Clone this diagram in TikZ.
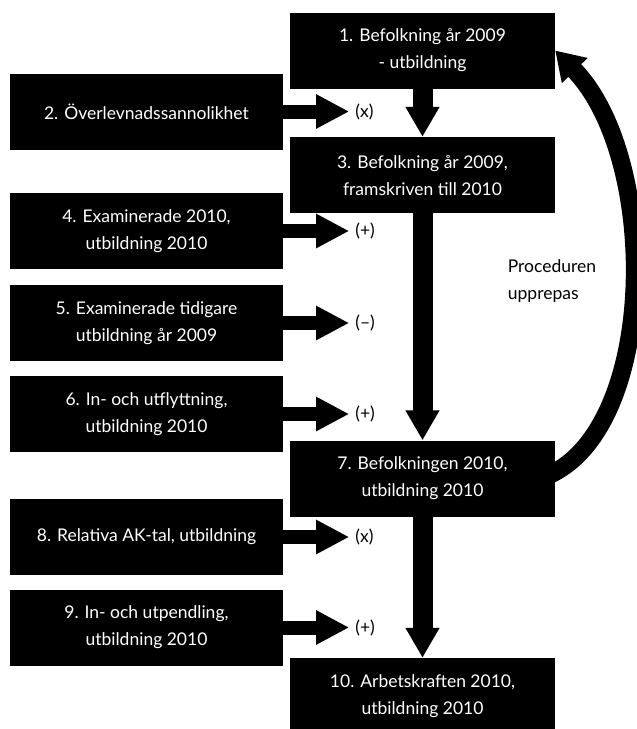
\documentclass[tikz,border=0pt]{standalone}
\usepackage{fontspec}
\setmainfont{Lato}
\usetikzlibrary{arrows.meta,positioning}

\begin{document}
\begin{tikzpicture}[x=1pt,y=-1pt,
  box/.style={fill=black, text=white, align=center, inner sep=0pt,
    minimum height=76pt, font=\fontsize{17.5}{27}\selectfont},
  leftbox/.style={box, minimum width=273pt},
  rightbox/.style={box, minimum width=265pt},
  sign/.style={inner sep=0pt, font=\fontsize{17.5}{27}\selectfont},
  feed/.style={line width=14pt, shorten >=6pt, -{Triangle[width=32pt,length=33pt]}},
  flow/.style={line width=20pt, -{Triangle[width=32pt,length=30pt]}}]
  \useasboundingbox (0,0) rectangle (637,729);
  \node[rightbox] (pop09) at (422.5,50.5) {1. Befolkning år 2009\\- utbildning};
  \node[leftbox] (surv) at (146.5,111.5) {2. Överlevnadssannolikhet};
  \node[rightbox] (proj) at (422.5,175) {3. Befolkning år 2009,\\framskriven till 2010};
  \node[leftbox] (grad10) at (146.5,231) {4. Examinerade 2010,\\utbildning 2010};
  \node[leftbox] (gradprev) at (146.5,323) {5. Examinerade tidigare\\utbildning år 2009};
  \node[leftbox] (migr) at (146.5,414) {6. In- och utflyttning,\\utbildning 2010};
  \node[rightbox] (pop10) at (422.5,478.5) {7. Befolkningen 2010,\\utbildning 2010};
  \node[leftbox] (akrel) at (146.5,537) {8. Relativa AK-tal, utbildning};
  \node[leftbox] (commute) at (146.5,627.5) {9. In- och utpendling,\\utbildning 2010};
  \node[rightbox] (labour) at (422.5,696) {10. Arbetskraften 2010,\\utbildning 2010};

  \node[sign, right=72pt of surv.east] (s-surv) {(x)};
  \node[sign, right=72pt of grad10.east] (s-grad10) {(+)};
  \node[sign, right=72pt of gradprev.east] (s-gradprev) {(–)};
  \node[sign, right=72pt of migr.east] (s-migr) {(+)};
  \node[sign, right=72pt of akrel.east] (s-akrel) {(x)};
  \node[sign, right=72pt of commute.east] (s-commute) {(+)};
  \node[sign, align=left] (repeat) at (552,281) {Proceduren\\upprepas};

  \draw[feed] (surv) -- (s-surv);
  \draw[feed] (grad10) -- (s-grad10);
  \draw[feed] (gradprev) -- (s-gradprev);
  \draw[feed] (migr) -- (s-migr);
  \draw[feed] (akrel) -- (s-akrel);
  \draw[feed] (commute) -- (s-commute);

  \draw[flow] (pop09) -- (proj);
  \draw[flow] (proj) -- (pop10);
  \draw[flow] (pop10) -- (labour);

  \draw[line width=18pt, -{Triangle[width=34pt,length=28pt]}]
    ([xshift=-15pt]pop10.east) .. controls (658,440) and (662,160) .. (pop09.east);
\end{tikzpicture}
\end{document}
